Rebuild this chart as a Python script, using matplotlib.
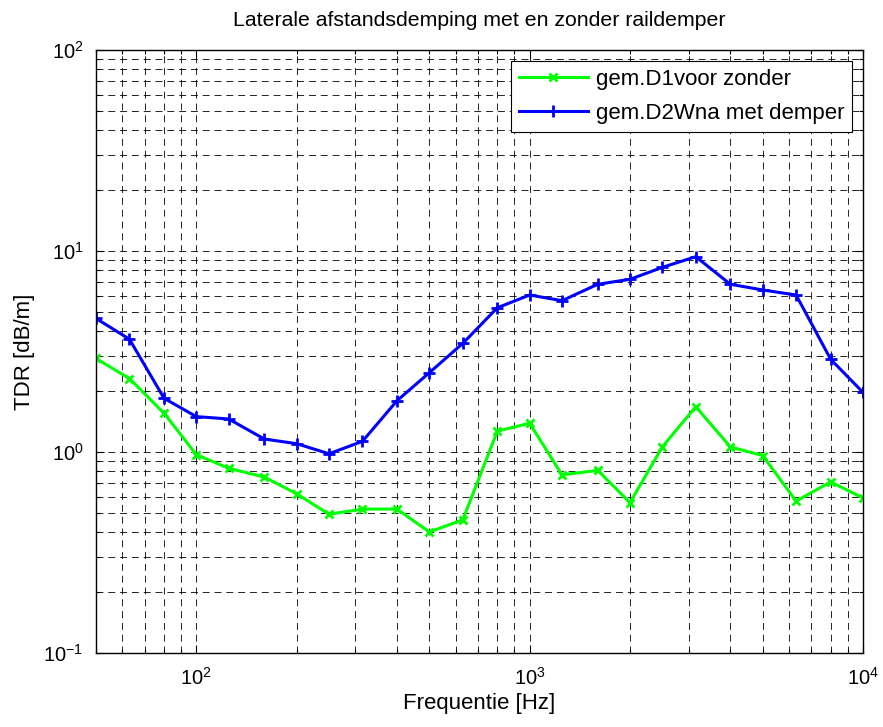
import matplotlib
matplotlib.use("Agg")
import matplotlib.pyplot as plt

# ----------------------------------
# Data (1/3 octave bands)
# ----------------------------------
freq = [50, 63, 80, 100, 125, 160, 200, 250, 315, 400, 500, 630, 800,
        1000, 1250, 1600, 2000, 2500, 3150, 4000, 5000, 6300, 8000, 10000]
tdr_zonder = [2.92, 2.32, 1.56, 0.97, 0.83, 0.75, 0.62, 0.49, 0.52, 0.52,
              0.40, 0.46, 1.27, 1.39, 0.77, 0.81, 0.56, 1.06, 1.68, 1.06,
              0.96, 0.57, 0.71, 0.59]
tdr_demper = [4.62, 3.64, 1.85, 1.50, 1.46, 1.16, 1.10, 0.98, 1.13, 1.80,
              2.48, 3.47, 5.22, 6.04, 5.66, 6.83, 7.23, 8.29, 9.37, 6.83,
              6.40, 6.04, 2.89, 1.98]
labels = ["gem.D1voor zonder", "gem.D2Wna met demper"]

plt.rcParams["font.family"] = ["Liberation Sans", "DejaVu Sans"]
plt.rcParams["mathtext.fontset"] = "custom"
plt.rcParams["mathtext.rm"] = "Liberation Sans"
plt.rcParams["mathtext.it"] = "Liberation Sans:italic"
plt.rcParams["lines.scale_dashes"] = False

fig = plt.figure(figsize=(8.83, 7.27), dpi=100)
ax = fig.add_axes([96 / 883, 1 - 653 / 727, 767 / 883, 603 / 727])

ax.plot(freq, tdr_zonder, color="#00ff00", lw=2.2, marker="x",
        ms=6, mew=2, label=labels[0])
ax.plot(freq, tdr_demper, color="#0000ff", lw=2.2, marker="+",
        ms=8, mew=2, label=labels[1])

ax.set_xscale("log")
ax.set_yscale("log")
ax.set_xlim(50, 10000)
ax.set_ylim(0.1, 100)

ax.grid(True, which="both", color="black", lw=0.6, linestyle=(0, (5, 3.5)))
ax.tick_params(which="both", direction="in", top=True, right=True,
               labelsize=14.5, width=0.8)
ax.tick_params(which="major", length=6)
ax.tick_params(which="minor", length=3)
ax.tick_params(axis="x", which="major", pad=10)
ax.tick_params(axis="y", which="major", pad=9)
for s in ax.spines.values():
    s.set_linewidth(1.0)

ax.set_title("Laterale afstandsdemping met en zonder raildemper",
             fontsize=15.3, pad=17)
ax.set_xlabel("Frequentie [Hz]", fontsize=16, labelpad=3)
ax.set_ylabel("TDR [dB/m]", fontsize=16, labelpad=6)

leg = ax.legend(loc="upper right", fontsize=16, numpoints=1, fancybox=False,
                framealpha=1, edgecolor="black", borderaxespad=0.5,
                handlelength=3.1, handletextpad=0.35, borderpad=0.35,
                labelspacing=0.6)
leg.get_frame().set_linewidth(0.8)

fig.savefig("out.png", dpi=100)
